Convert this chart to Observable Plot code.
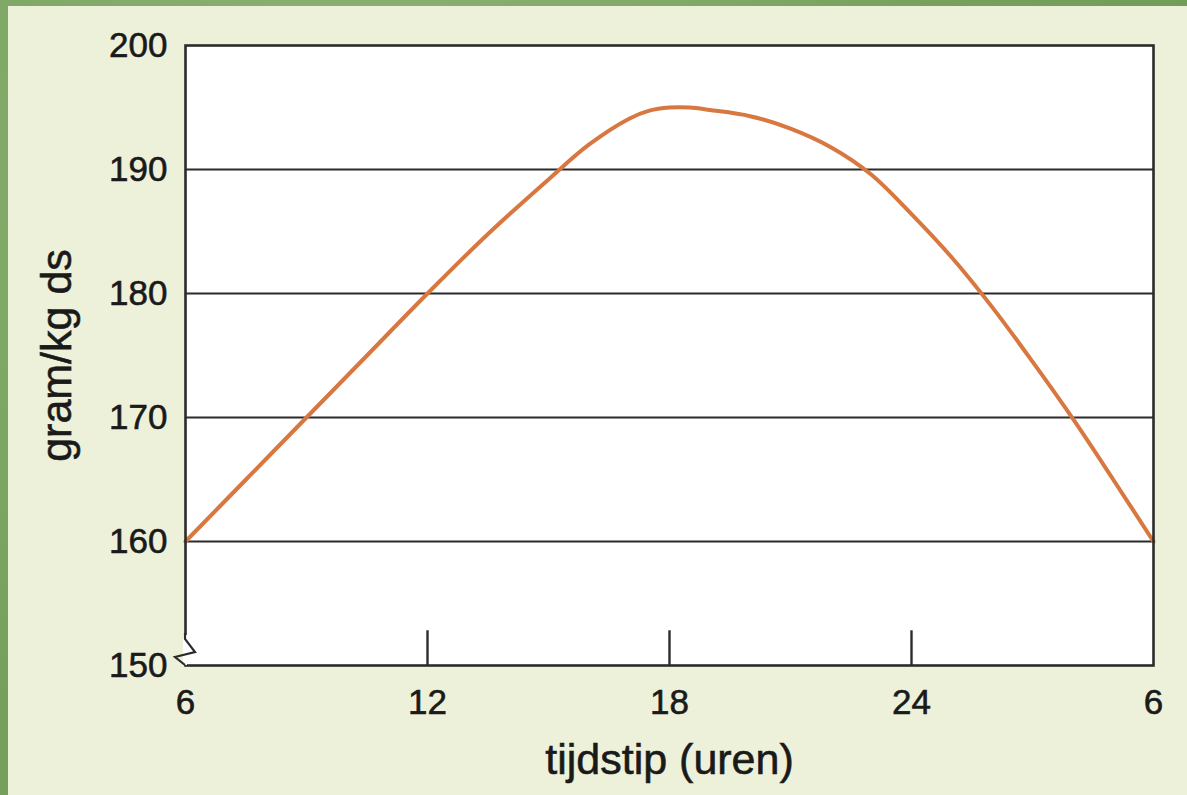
<!DOCTYPE html>
<html>
<head>
<meta charset="utf-8">
<script src="https://cdn.jsdelivr.net/npm/d3@7"></script>
<script src="https://cdn.jsdelivr.net/npm/@observablehq/plot@0.6"></script>
<style>
  html, body { margin: 0; padding: 0; }
  body {
    width: 1187px; height: 795px; overflow: hidden;
    background: #7ea566;
    background-image: radial-gradient(circle at 30% 20%, #8fb477 0%, #76a05c 60%, #6f9a57 100%);
  }
  #panel {
    position: absolute; left: 8px; top: 6px; width: 1179px; height: 789px;
    background: #eef1d9;
  }
  #panel svg text { stroke: #1a1a1a; stroke-width: 0.6px; }
  #panel svg g[aria-label="x-axis label"] text,
  #panel svg g[aria-label="y-axis label"] text { font-size: 43px; }
</style>
</head>
<body>
<div id="panel"></div>
<script>
// Time of day (hours, 6 → 30 means 6 h the next morning)
const hours  = [6, 7.5, 9, 10.5, 12, 13.5, 15, 16, 17, 17.5, 18, 18.5, 19, 20, 21, 22, 23, 24, 25, 26, 27, 28, 29, 30];
// gram/kg ds
const values = [160, 165, 170, 175, 180, 184.8, 189.2, 192, 194.1, 194.75, 195, 195, 194.8, 194.3, 193.3, 191.8, 189.6, 186.4, 182.9, 178.9, 174.5, 169.9, 165, 160];

const xTicks = [6, 12, 18, 24, 30];
const xTickLabels = ["6", "12", "18", "24", "6"];
const innerTicks = [12, 18, 24];
const yTicks = [150, 160, 170, 180, 190, 200];
const gridValues = [160, 170, 180, 190];

const data = hours.map((h, i) => ({h, v: values[i]}));

const ink = "#2b2b2b";

// axis-break zigzag drawn relative to the (6, 150) corner via the scales
function axisBreak(index, scales) {
  const x0 = scales.x(6), y0 = scales.y(150);
  const ns = "http://www.w3.org/2000/svg";
  const g = document.createElementNS(ns, "g");
  const bg = document.createElementNS(ns, "path");
  bg.setAttribute("d", `M${x0},${y0 - 30}L${x0},${y0}`);
  bg.setAttribute("stroke", "white");
  bg.setAttribute("stroke-width", 4);
  const p = document.createElementNS(ns, "path");
  p.setAttribute("d", `M${x0},${y0 - 32}L${x0},${y0 - 26}L${x0 + 10},${y0 - 13}L${x0 - 10},${y0 - 8}L${x0},${y0}`);
  p.setAttribute("fill", "none");
  p.setAttribute("stroke", ink);
  p.setAttribute("stroke-width", 2.2);
  g.appendChild(bg);
  g.appendChild(p);
  return g;
}

const chart = Plot.plot({
  width: 1179,
  height: 789,
  marginLeft: 177,
  marginRight: 34,
  marginTop: 39,
  marginBottom: 130,
  style: {
    background: "transparent",
    fontFamily: "'Liberation Sans', Arial, sans-serif",
    fontSize: "35px",
    color: "#1a1a1a"
  },
  x: {
    domain: [6, 30],
    ticks: xTicks,
    tickFormat: (d) => xTickLabels[xTicks.indexOf(d)],
    tickSize: 0,
    tickPadding: 24,
    label: "tijdstip (uren)",
    labelAnchor: "center",
    labelArrow: "none",
    labelOffset: 108
  },
  y: {
    domain: [150, 200],
    ticks: yTicks,
    tickSize: 0,
    tickPadding: 18,
    label: "gram/kg ds",
    labelAnchor: "center",
    labelArrow: "none",
    labelOffset: 145
  },
  marks: [
    Plot.frame({fill: "white", stroke: null}),
    Plot.ruleY(gridValues, {stroke: ink, strokeWidth: 2}),
    Plot.ruleX(innerTicks, {x: d => d, y1: () => 150, y2: () => 152.8, stroke: ink, strokeWidth: 2.4}),
    Plot.line(data, {x: "h", y: "v", stroke: "#d8773f", strokeWidth: 4, curve: "catmull-rom"}),
    Plot.frame({stroke: ink, strokeWidth: 2.6}),
    axisBreak
  ]
});

document.getElementById("panel").appendChild(chart);
</script>
</body>
</html>
